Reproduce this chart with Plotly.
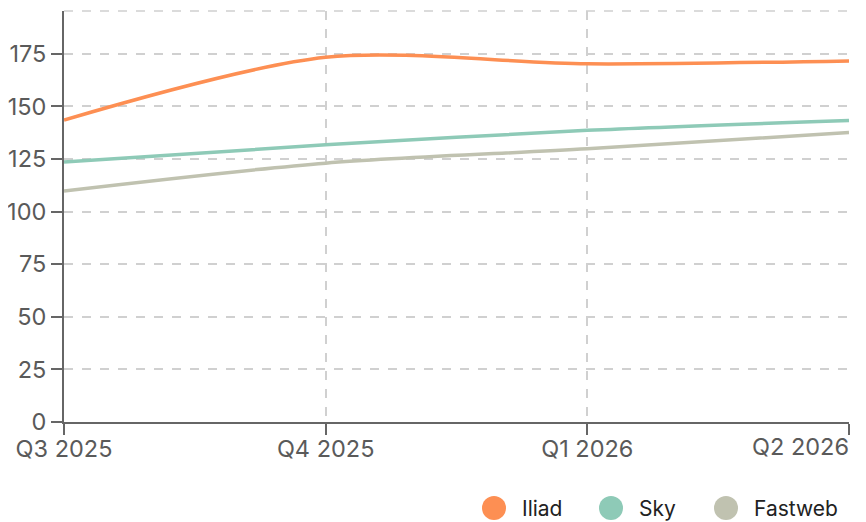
import plotly.graph_objects as go

quarters = ["Q3 2025", "Q4 2025", "Q1 2026", "Q2 2026"]
iliad = [143.5, 173.3, 170.2, 171.6]
sky = [123.6, 131.7, 138.6, 143.3]
fastweb = [109.8, 123.0, 129.8, 137.6]
series_names = ["Iliad", "Sky", "Fastweb"]
colors = ["#fd8f53", "#8ecab7", "#c0c2b0"]
y_ticks = [0, 25, 50, 75, 100, 125, 150, 175]

FONT = "Inter, Noto Sans, sans-serif"
TICK_SIZE = 23.5
# page body has an 8px margin: figure placed at (8, 8)
OFF = 8
W, H = 866 - OFF, 522 - OFF
fig = go.Figure()
for name, vals, col in zip(series_names, [iliad, sky, fastweb], colors):
    fig.add_trace(go.Scatter(x=quarters, y=vals, name=name, mode="lines",
                             line=dict(color=col, width=3.5, shape="spline", smoothing=0.85),
                             showlegend=False, hoverinfo="x+y+name"))

fig.update_layout(
    width=W, height=H,
    margin=dict(l=64 - OFF, r=W - (849 - OFF), t=11 - OFF, b=H - (422 - OFF), autoexpand=False),
    paper_bgcolor="white", plot_bgcolor="white",
    font=dict(family=FONT, size=TICK_SIZE, color="#5a5a5a"),
)
fig.update_xaxes(type="category", range=[0, 3], showgrid=True, gridcolor="#d0d0d0",
                 griddash="dash", gridwidth=1.5, showline=True, linecolor="#666666", linewidth=2,
                 ticks="outside", ticklen=11, tickwidth=2, tickcolor="#666666",
                 tickvals=quarters, ticktext=quarters[:3] + [""], tickfont=dict(size=TICK_SIZE, color="#5a5a5a"),
                 ticklabelstandoff=-6,
                 zeroline=False, automargin=False)
fig.update_yaxes(range=[0, 195.3], tickvals=y_ticks, showgrid=True, gridcolor="#d0d0d0",
                 griddash="dash", gridwidth=1.5, showline=True, linecolor="#666666", linewidth=2,
                 ticks="outside", ticklen=11, tickwidth=2, tickcolor="#666666",
                 tickfont=dict(size=TICK_SIZE, color="#5a5a5a"), zeroline=False, automargin=False)

# top dashed frame line
fig.add_shape(type="line", xref="paper", yref="paper", x0=0, x1=1, y0=1, y1=1,
              line=dict(color="#d0d0d0", width=1.5, dash="dash"))
# last x label right-aligned
fig.add_annotation(x=quarters[-1], y=0, xref="x", yref="paper", text=quarters[-1], showarrow=False,
                   xanchor="right", yanchor="top", yshift=-8, xshift=2,
                   font=dict(size=TICK_SIZE, color="#5a5a5a", family=FONT))

# manual legend (bottom right)
legend_x = [494, 611, 726]
for name, col, cx in zip(series_names, colors, legend_x):
    fig.add_shape(type="circle", xref="paper", yref="paper",
                  x0=(cx - 64 - 12) / 785, x1=(cx - 64 + 12) / 785,
                  y0=(422 - 508 - 12) / 411, y1=(422 - 508 + 12) / 411,
                  fillcolor=col, line=dict(width=0))
    fig.add_annotation(x=(cx - 64 + 26) / 785, y=(422 - 508) / 411, xref="paper", yref="paper",
                       text=name, showarrow=False, xanchor="left", yanchor="middle",
                       font=dict(size=21, color="#222222", family=FONT))

fig.write_html("out.html")
